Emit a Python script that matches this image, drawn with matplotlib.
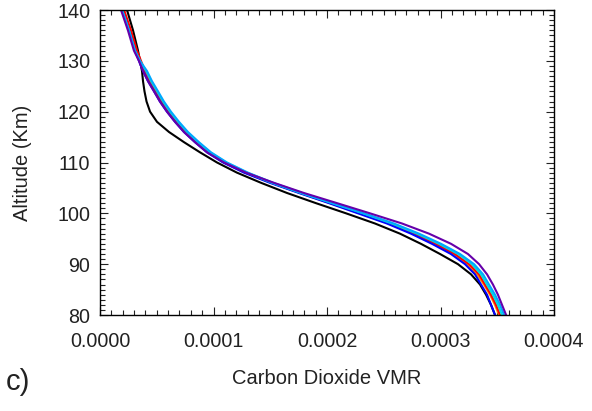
import matplotlib
matplotlib.use("Agg")
import matplotlib.pyplot as plt
import numpy as np
from matplotlib.ticker import MultipleLocator, FormatStrFormatter

plt.rcParams['font.family'] = ['Liberation Sans', 'DejaVu Sans']

# altitude grid (km)
alt = [140, 136, 132, 130, 128, 126, 124, 122, 120, 118, 116, 114, 112, 110,
       108, 106, 104, 102, 100, 98, 96, 94, 92, 90, 88, 86, 84, 82, 80]

# CO2 VMR profiles, in units of 1e-6
vmr_black = [23.8, 29.1, 33.5, 35.2, 37.0, 37.9, 39.2, 41.0, 44.1, 50.2, 60.8, 74.0, 88.1, 103.1,
             120.7, 141.9, 164.8, 190.3, 216.8, 242.3, 264.3, 282.8, 299.6, 315.4, 326.9, 334.8, 340.1, 344.5, 348.0]
vmr_orange = [20.3, 26.4, 31.7, 35.2, 38.8, 43.2, 48.5, 53.7, 59.9, 67.0, 74.9, 84.6, 95.2, 109.3,
              127.8, 150.7, 176.2, 202.7, 229.1, 254.6, 275.8, 294.3, 311.0, 323.4, 332.2, 338.3, 343.6, 348.0, 351.6]
vmr_red = [21.2, 27.3, 32.6, 36.1, 39.7, 44.1, 49.4, 54.6, 60.8, 67.9, 75.8, 85.5, 96.1, 110.2,
           128.7, 151.6, 177.1, 203.6, 230.0, 256.4, 277.6, 296.1, 312.8, 325.2, 334.0, 339.2, 344.5, 348.9, 352.5]
vmr_blue = [19.4, 25.5, 30.8, 34.3, 37.9, 42.3, 47.6, 52.8, 59.0, 66.1, 74.0, 83.7, 94.3, 108.4,
            126.9, 149.8, 175.3, 201.8, 227.3, 252.8, 274.0, 292.5, 309.2, 321.6, 330.4, 335.7, 341.0, 344.5, 348.1]
vmr_cyan = [19.4, 25.5, 30.8, 35.2, 40.6, 45.0, 50.3, 55.5, 61.7, 68.8, 76.7, 86.4, 97.0, 111.1,
            129.6, 151.6, 177.1, 204.5, 231.7, 257.2, 279.3, 298.7, 315.4, 327.8, 335.7, 340.9, 346.2, 350.6, 354.2]
vmr_sky = [19.4, 25.5, 30.8, 35.2, 41.4, 45.8, 51.1, 56.3, 62.5, 69.6, 77.5, 87.2, 97.8, 111.9,
           130.4, 152.5, 178.0, 205.3, 232.6, 259.0, 281.1, 300.5, 317.2, 329.6, 337.5, 342.7, 348.0, 352.4, 356.0]
vmr_purple = [18.5, 24.6, 29.9, 34.3, 37.9, 42.3, 47.6, 52.8, 59.0, 66.1, 74.0, 83.7, 94.3, 109.3,
              128.7, 153.3, 179.7, 208.9, 237.9, 266.1, 289.9, 309.3, 324.2, 334.0, 341.0, 346.2, 350.6, 354.2, 357.8]

profiles = [
    (vmr_black, 'black'),
    (vmr_orange, '#ff8c00'),
    (vmr_red, '#ff0000'),
    (vmr_blue, '#0000ff'),
    (vmr_cyan, '#00dede'),
    (vmr_sky, '#00a8ff'),
    (vmr_purple, '#6600aa'),
]

fig = plt.figure(figsize=(5.92, 4.11), dpi=100)
ax = fig.add_axes([100/592, 1-315/411, 454/592, 305/411])

for v, c in profiles:
    ax.plot(np.array(v) * 1e-6, alt, color=c, lw=1.5)

ax.set_xlim(0, 0.0004)
ax.set_ylim(80, 140)
ax.xaxis.set_major_locator(MultipleLocator(0.0001))
ax.xaxis.set_minor_locator(MultipleLocator(0.00001))
ax.xaxis.set_major_formatter(FormatStrFormatter('%.4f'))
ax.yaxis.set_major_locator(MultipleLocator(10))
ax.yaxis.set_minor_locator(MultipleLocator(1))

ax.tick_params(which='both', direction='in', top=True, right=True, colors='#222222')
ax.tick_params(which='major', length=6, width=0.8, labelsize=14.2)
ax.tick_params(which='minor', length=3.5, width=0.8)
ax.tick_params(axis='x', which='major', pad=12)
ax.tick_params(axis='y', which='major', pad=7)
for s in ax.spines.values():
    s.set_linewidth(1.0)

ax.set_xlabel('Carbon Dioxide VMR', fontsize=14.5, color='#222222', labelpad=13)
ax.set_ylabel('Altitude (Km)', fontsize=14.5, color='#222222')
ax.yaxis.set_label_coords(-0.15, 0.5)
fig.text(18/592, 1-382/411, 'c)', fontsize=21, ha='center', va='center', color='#222222')

fig.savefig('out.png', dpi=100)
